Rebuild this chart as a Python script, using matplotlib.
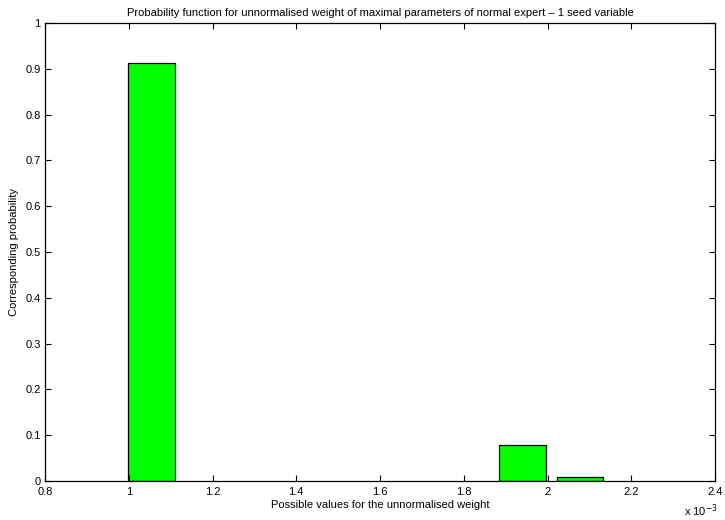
import numpy as np
import matplotlib
matplotlib.use("Agg")
import matplotlib.pyplot as plt

plt.rcParams['font.family'] = ['Liberation Sans', 'DejaVu Sans']

# bar centres (in units of 1e-3) and probabilities
centres = [1.054, 1.940, 2.078]
probs = [0.913, 0.078, 0.0095]
bar_width = 0.111

xticks = [0.8, 1.0, 1.2, 1.4, 1.6, 1.8, 2.0, 2.2, 2.4]
xtick_labels = ['0.8', '1', '1.2', '1.4', '1.6', '1.8', '2', '2.2', '2.4']
yticks = np.round(np.arange(0, 1.01, 0.1), 1)
ytick_labels = ['0'] + ['%g' % v for v in yticks[1:-1]] + ['1']

fs = 8

fig = plt.figure(figsize=(7.25, 5.2), dpi=100)
ax = fig.add_axes([45 / 725, 39 / 520, 670 / 725, 458 / 520])

ax.bar(centres, probs, width=bar_width, color='#00ff00', edgecolor='black', linewidth=0.9)

ax.set_xlim(0.8, 2.4)
ax.set_ylim(0, 1)
ax.set_xticks(xticks)
ax.set_xticklabels(xtick_labels)
ax.set_yticks(yticks)
ax.set_yticklabels(ytick_labels)
ax.tick_params(direction='in', top=True, right=True, labelsize=fs, length=4, width=0.8)
ax.tick_params(axis='x', pad=4.5)
ax.tick_params(axis='y', pad=3)
for s in ax.spines.values():
    s.set_linewidth(0.9)

ax.set_title('Probability function for unnormalised weight of maximal parameters of normal expert \u2013 1 seed variable',
             fontsize=fs, pad=5)
ax.set_xlabel('Possible values for the unnormalised weight', fontsize=fs, labelpad=2)
ax.set_ylabel('Corresponding probability', fontsize=fs, labelpad=5)
fig.text(684 / 725, 1 - 511 / 520, r'x 10$^{-3}$', fontsize=fs, va='center', ha='left')

fig.savefig('out.png', dpi=100)
